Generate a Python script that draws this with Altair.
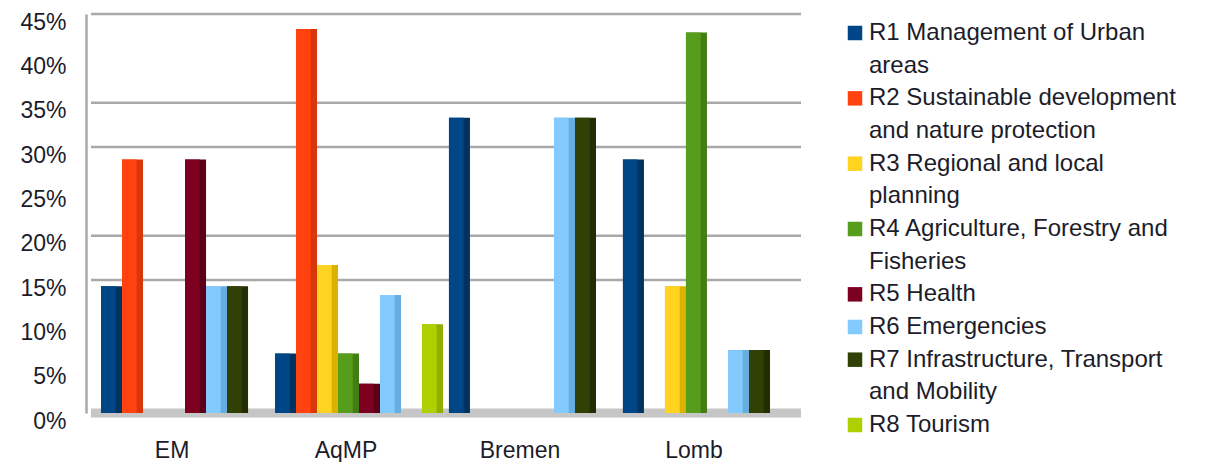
import altair as alt
import pandas as pd

# ---------------- data ----------------
categories = ["EM", "AqMP", "Bremen", "Lomb"]
series = ["R1", "R2", "R3", "R4", "R5", "R6", "R7", "R8"]
legend_lines = [
    ["R1 Management of Urban", "areas"],
    ["R2 Sustainable development", "and nature protection"],
    ["R3 Regional and local", "planning"],
    ["R4 Agriculture, Forestry and", "Fisheries"],
    ["R5 Health"],
    ["R6 Emergencies"],
    ["R7 Infrastructure, Transport", "and Mobility"],
    ["R8 Tourism"],
]
# percentage values per series, in the order of `categories`
r1 = [14.3, 6.7, 33.3, 28.6]
r2 = [28.6, 43.3, 0.0, 0.0]
r3 = [0.0, 16.7, 0.0, 14.3]
r4 = [0.0, 6.7, 0.0, 42.9]
r5 = [28.6, 3.3, 0.0, 0.0]
r6 = [14.3, 13.3, 33.3, 7.1]
r7 = [14.3, 0.0, 33.3, 7.1]
r8 = [0.0, 10.0, 0.0, 0.0]
series_values = [r1, r2, r3, r4, r5, r6, r7, r8]

y_tick_values = [0, 5, 10, 15, 20, 25, 30, 35, 40, 45]
grid_values = [15, 20, 30, 35, 45]

# ---------------- styles ----------------
front_colors = ["#004586", "#ff420e", "#ffd320", "#579d1c",
                "#7e0021", "#83caff", "#314004", "#aecf00"]
side_colors = ["#00335f", "#d9360a", "#dcb200", "#447d14",
               "#5c0018", "#68addf", "#222d02", "#92ad00"]
FONT = "Liberation Sans"
TEXT_COLOR = "#1c1c2a"
FS = 23

rows = []
for s, vals in zip(series, series_values):
    for c, v in zip(categories, vals):
        rows.append({"category": c, "series": s, "value": v})
df = pd.DataFrame(rows)

grid_df = pd.DataFrame({"value": grid_values})
floor_df = pd.DataFrame({"value": [0]})

y_enc = alt.Y(
    "value:Q",
    scale=alt.Scale(domain=[0, 45], nice=False, zero=True),
    axis=alt.Axis(
        values=y_tick_values,
        labelExpr="datum.value + '%'",
        title=None,
        grid=False,
        ticks=False,
        tickSize=0,
        domainColor="#a9a9a9",
        domainWidth=2.5,
        offset=5,
        labelPadding=20,
        labelOffset=8,
        labelFont=FONT,
        labelFontSize=FS,
        labelColor=TEXT_COLOR,
    ),
)

x_enc = alt.X(
    "category:N",
    sort=categories,
    scale=alt.Scale(paddingInner=0.034, paddingOuter=0.0575),
    axis=alt.Axis(
        title=None,
        labelAngle=0,
        domain=False,
        ticks=False,
        labelPadding=26,
        labelOffset=-13,
        labelFont=FONT,
        labelFontSize=FS,
        labelColor=TEXT_COLOR,
    ),
)

grid = alt.Chart(grid_df).mark_rule(color="#a9a9a9", strokeWidth=2.5).encode(y=y_enc)
floor = alt.Chart(floor_df).mark_rule(color="#c6c6c6", strokeWidth=9).encode(y=y_enc)

# side faces: full slot width
side = alt.Chart(df).mark_bar().encode(
    x=x_enc,
    xOffset=alt.XOffset("series:N", sort=series,
                        scale=alt.Scale(paddingInner=0, paddingOuter=0)),
    y=y_enc,
    color=alt.Color("series:N", scale=alt.Scale(domain=series, range=side_colors), legend=None),
)
# front faces: left part of each slot
front = alt.Chart(df).mark_bar().encode(
    x=x_enc,
    xOffset=alt.XOffset("series:N", sort=series,
                        scale=alt.Scale(paddingInner=0.3, paddingOuter=0.15, align=0)),
    y=y_enc,
    color=alt.Color("series:N", scale=alt.Scale(domain=series, range=front_colors), legend=None),
)

main = alt.layer(grid, floor, side, front).resolve_scale(
    color="independent", xOffset="independent"
).properties(width=710, height=399)

# ---------------- custom legend ----------------
leg_rows = []
line_idx = 0
for s, lines in zip(series, legend_lines):
    for j, t in enumerate(lines):
        leg_rows.append({"series": s, "text": t, "line": line_idx, "first": j == 0})
        line_idx += 1
leg_df = pd.DataFrame(leg_rows)

leg_y = alt.Y("line:Q", scale=alt.Scale(domain=[0, 12], range=[19, 411], nice=False, zero=False), axis=None)

leg_sym = alt.Chart(leg_df).transform_filter("datum.first").mark_square(size=210, opacity=1).encode(
    x=alt.value(17),
    y=leg_y,
    color=alt.Color("series:N", scale=alt.Scale(domain=series, range=front_colors), legend=None),
)
leg_txt = alt.Chart(leg_df).mark_text(
    align="left", baseline="middle", font=FONT, fontSize=24, color=TEXT_COLOR
).encode(
    x=alt.value(31),
    y=leg_y,
    text="text:N",
)
legend = alt.layer(leg_sym, leg_txt).properties(width=345, height=399)

chart = alt.hconcat(main, legend, spacing=32).properties(
    padding={"left": 11, "top": 3, "right": 5, "bottom": 0},
    background="white",
).configure_view(stroke=None)

chart.save("out.html", embed_options={"renderer": "svg", "actions": False})
